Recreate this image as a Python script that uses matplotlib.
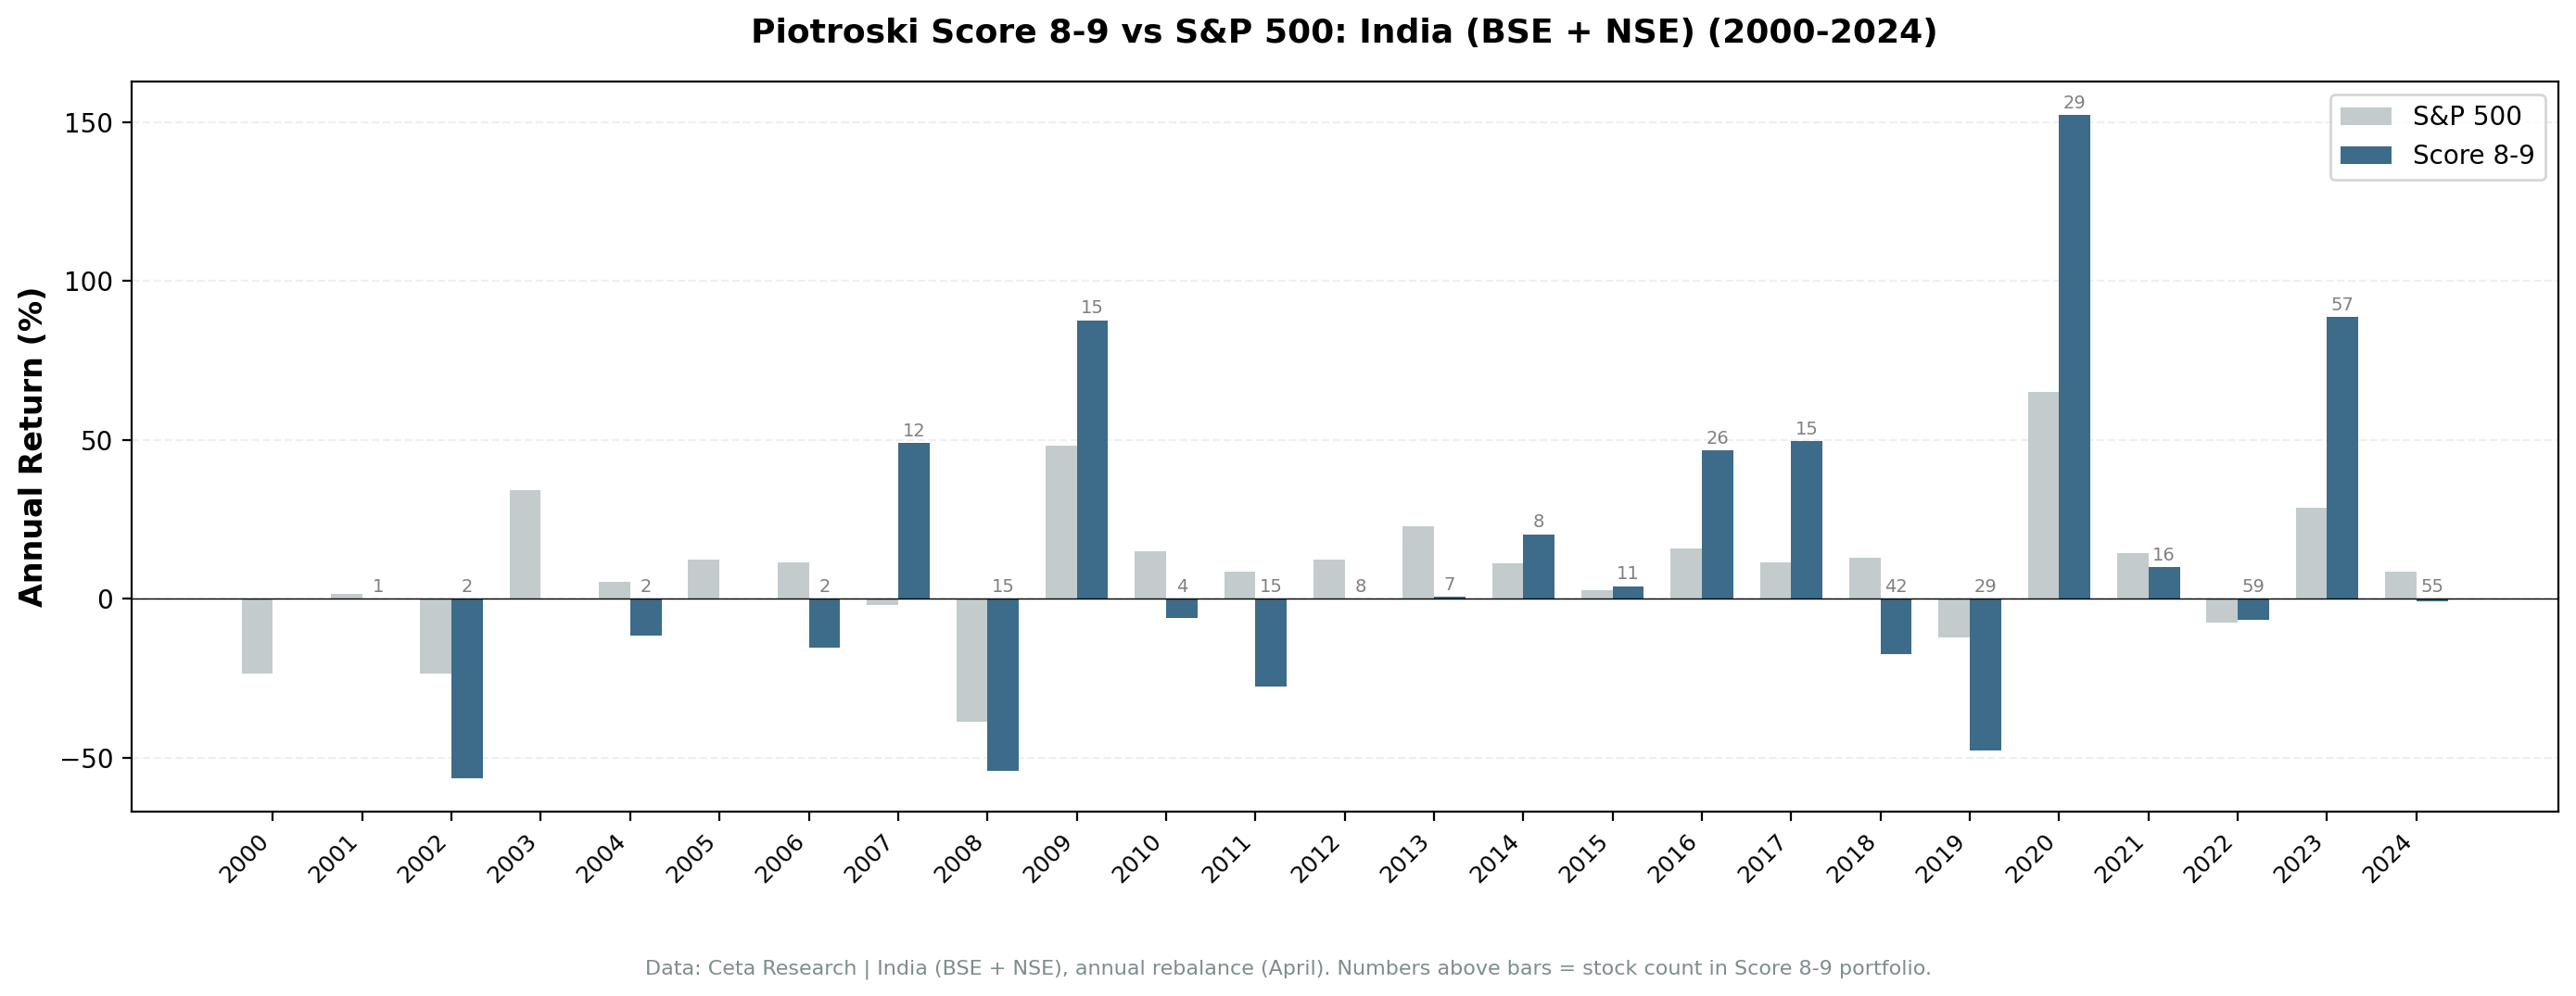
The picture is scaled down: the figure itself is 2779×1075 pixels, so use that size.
import matplotlib
matplotlib.use("Agg")
import matplotlib.pyplot as plt
import numpy as np

years = list(range(2000, 2025))
sp500_ret = [-23.5, 1.7, -23.5, 34.1, 5.3, 12.4, 11.6, -1.9, -38.7, 48.2,
             15.0, 8.7, 12.4, 22.9, 11.3, 2.6, 15.9, 11.5, 12.9, -12.0,
             65.1, 14.4, -7.6, 28.8, 8.5]
score_ret = [np.nan, 0.0, -56.5, np.nan, -11.5, np.nan, -15.2, 49.0, -54.2, 87.6,
             -6.0, -27.5, 0.0, 0.6, 20.3, 4.0, 46.6, 49.6, -17.5, -47.8,
             152.2, 10.0, -6.7, 88.6, -0.9]
stock_count = [None, 1, 2, None, 2, None, 2, 12, 15, 15,
               4, 15, 8, 7, 8, 11, 26, 15, 42, 29,
               29, 16, 59, 57, 55]

sp_color = "#c3cbcc"
score_color = "#3d6b8a"
width = 0.35

fig, ax = plt.subplots(figsize=(2779 / 200, 1075 / 200), dpi=200)
x = np.arange(len(years))

ax.bar(x - width / 2, sp500_ret, width, color=sp_color, label="S&P 500")
ax.bar(x + width / 2, score_ret, width, color=score_color, label="Score 8-9")

# stock counts above the Score 8-9 bars
for i, n in enumerate(stock_count):
    if n is None:
        continue
    v = score_ret[i]
    ypos = max(v, 0) if not np.isnan(v) else 0
    ax.text(x[i] + width / 2, ypos + 1, str(n), ha="center", va="bottom",
            fontsize=7, color="gray")

ax.axhline(0, color="black", linewidth=0.5)
ax.set_xticks(x)
ax.set_xticklabels([str(y) for y in years], rotation=45, ha="right", fontsize=9)
ax.tick_params(axis="y", labelsize=10)
ax.set_ylabel("Annual Return (%)", fontsize=12, fontweight="bold")
ax.set_title("Piotroski Score 8-9 vs S&P 500: India (BSE + NSE) (2000-2024)",
             fontsize=13, fontweight="bold", pad=15)
ax.grid(axis="y", linestyle="--", alpha=0.2)
ax.set_axisbelow(True)
ax.legend(loc="upper right", fontsize=10)

fig.subplots_adjust(left=0.051, right=0.993, top=0.918, bottom=0.185)
fig.text(0.5, 0.022,
         "Data: Ceta Research | India (BSE + NSE), annual rebalance (April). "
         "Numbers above bars = stock count in Score 8-9 portfolio.",
         ha="center", fontsize=8, color="#7f8c8d")

plt.savefig("out.png", dpi=200)
plt.close()
